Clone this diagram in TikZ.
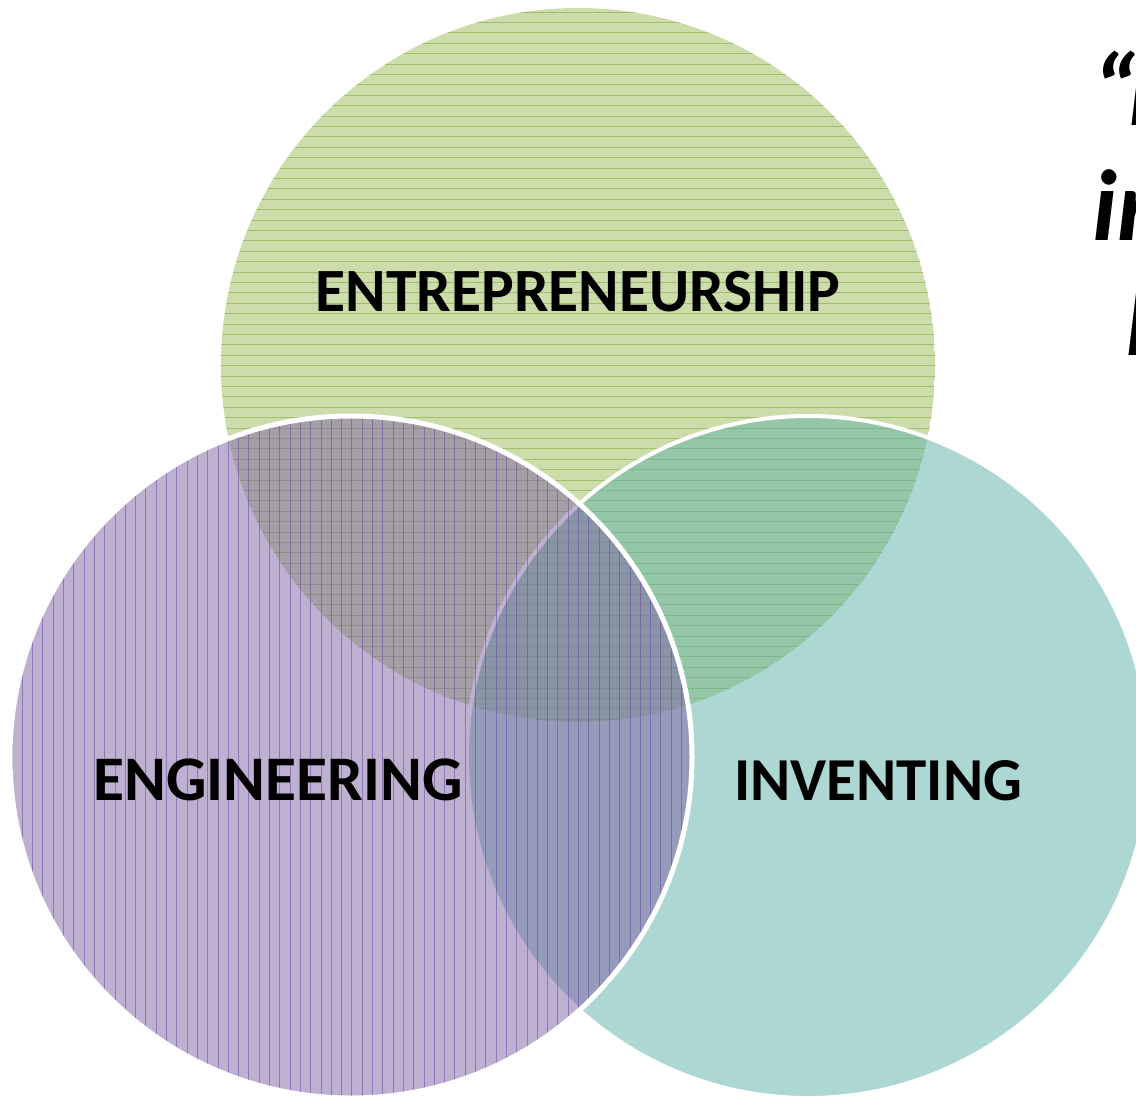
\documentclass[tikz,border=0pt]{standalone}
\usepackage{fontspec}
\setmainfont{Carlito}
\begin{document}
\begin{tikzpicture}[x=1pt,y=-1pt,
  lbl/.style={text=black, inner sep=0pt, anchor=base},
  quotetxt/.style={font=\fontsize{101}{115}\selectfont\bfseries\itshape, text=black, inner sep=0pt, anchor=base west},
  rim/.style={draw=white}]
\definecolor{gbase}{RGB}{155,187,89}
\definecolor{gline}{RGB}{125,168,55}
\definecolor{pbase}{RGB}{127,99,165}
\definecolor{pline}{RGB}{105,75,160}
\definecolor{tbase}{RGB}{93,177,167}
\useasboundingbox (0,0) rectangle (1136,1098);
\fill[white] (0,0) rectangle (1136,1098);
\coordinate (gc) at (578,365);
\coordinate (pc) at (351,757);
\coordinate (tc) at (808,757);
% green circle
\begin{scope}
  \clip (gc) circle[radius=357pt];
  \fill[gbase, fill opacity=0.5] (gc) circle[radius=357pt];
  \foreach \k in {0,...,69}
    \draw[gline, line width=1pt, opacity=0.55] (200,{12+\k*10.4}) -- (960,{12+\k*10.4});
\end{scope}
% teal circle
\fill[tbase, fill opacity=0.5] (tc) circle[radius=341pt];
\draw[rim, line width=4pt] (tc) circle[radius=341pt];
% purple circle
\begin{scope}
  \clip (pc) circle[radius=341pt];
  \fill[pbase, fill opacity=0.5] (pc) circle[radius=341pt];
  \foreach \k in {0,...,67}
    \draw[pline, line width=1pt, opacity=0.55] ({12+\k*10.3},400) -- ({12+\k*10.3},1110);
\end{scope}
\draw[rim, line width=5pt] (pc) circle[radius=341pt];
% labels
\node[lbl, font=\fontsize{61.5}{70}\selectfont\bfseries] (ent) at (578,311) {ENTREPRENEURSHIP};
\node[lbl, font=\fontsize{63.5}{70}\selectfont\bfseries] (eng) at (278,800) {ENGINEERING};
\node[lbl, font=\fontsize{61}{70}\selectfont\bfseries] (inv) at (878,800) {INVENTING};
% cut-off quote at right
\node[quotetxt] (q1) at (1092,125) {“\kern-9ptI};
\node[quotetxt] (q2) at (1092,240) {in};
\node[quotetxt] (q3) at (1124,355) {I};
\end{tikzpicture}
\end{document}
